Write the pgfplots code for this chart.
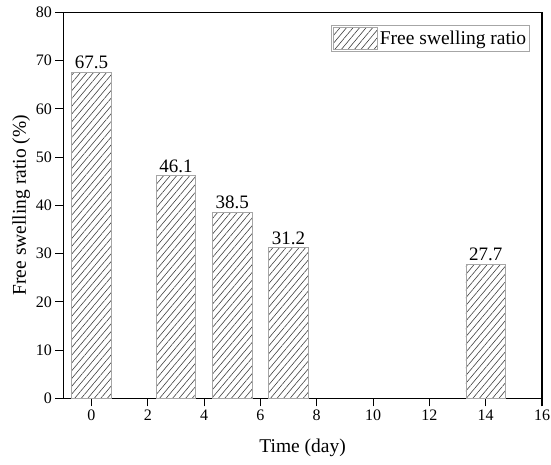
\documentclass[border=0pt]{standalone}
\usepackage{fontspec}
\setmainfont{Liberation Serif}
\usepackage{pgfplots}
\pgfplotsset{compat=1.18}
\usetikzlibrary{patterns.meta}

\begin{document}
\begin{tikzpicture}
\useasboundingbox (-63.3pt,-65.7pt) rectangle (487.7pt,398.3pt);
\fill[black] (-0.55pt,385.45pt) rectangle (479.25pt,386.55pt);
\fill[black] (478.15pt,-0.55pt) rectangle (479.25pt,386.55pt);
\begin{axis}[
  at={(0,0)}, anchor=south west,
  scale only axis, width=478.7pt, height=386pt,
  xmin=-1, xmax=16, ymin=0, ymax=80,
  xtick={0,2,...,16}, ytick={0,10,...,80},
  tick align=outside, major tick length=8pt,
  xtick pos=left, ytick pos=left,
  axis line style={line width=1.1pt, black},
  major tick style={line width=1.1pt, black},
  /pgf/number format/assume math mode=true,
  tick label style={font=\fontsize{16}{18}\selectfont},
  xlabel={Time (day)},
  ylabel={Free swelling ratio (\%)},
  label style={font=\fontsize{19.5}{23}\selectfont},
  xlabel style={at={(axis description cs:0.5,0)}, anchor=center, yshift=-50pt},
  ylabel style={at={([xshift=-42pt]axis description cs:0,0.5)}, anchor=center},
  ybar, bar width=1.4,
  nodes near coords,
  every node near coord/.append style={font=\fontsize{19}{22}\selectfont, black, inner ysep=3pt,
     /pgf/number format/fixed, /pgf/number format/fixed zerofill, /pgf/number format/precision=1},
  legend style={at={(1,1)}, anchor=north east, xshift=-12pt, yshift=-12.5pt,
     draw=gray!70, line width=0.8pt, font=\fontsize{19.5}{23}\selectfont, inner sep=1.5pt,
     legend cell align=left},
  legend image code/.code={\draw[pattern={Lines[angle=50,distance=5pt,line width=0.6pt]}, pattern color=black!75, draw=gray!70, line width=0.8pt] (0pt,-11pt) rectangle (44pt,11pt);},
]
\addplot[draw=gray!70, line width=0.9pt, pattern={Lines[angle=50,distance=5pt,line width=0.6pt]}, pattern color=black!75]
  coordinates {(0,67.5) (3,46.1) (5,38.5) (7,31.2) (14,27.7)};
\addlegendentry{Free swelling ratio}
\end{axis}
\end{tikzpicture}
\end{document}
